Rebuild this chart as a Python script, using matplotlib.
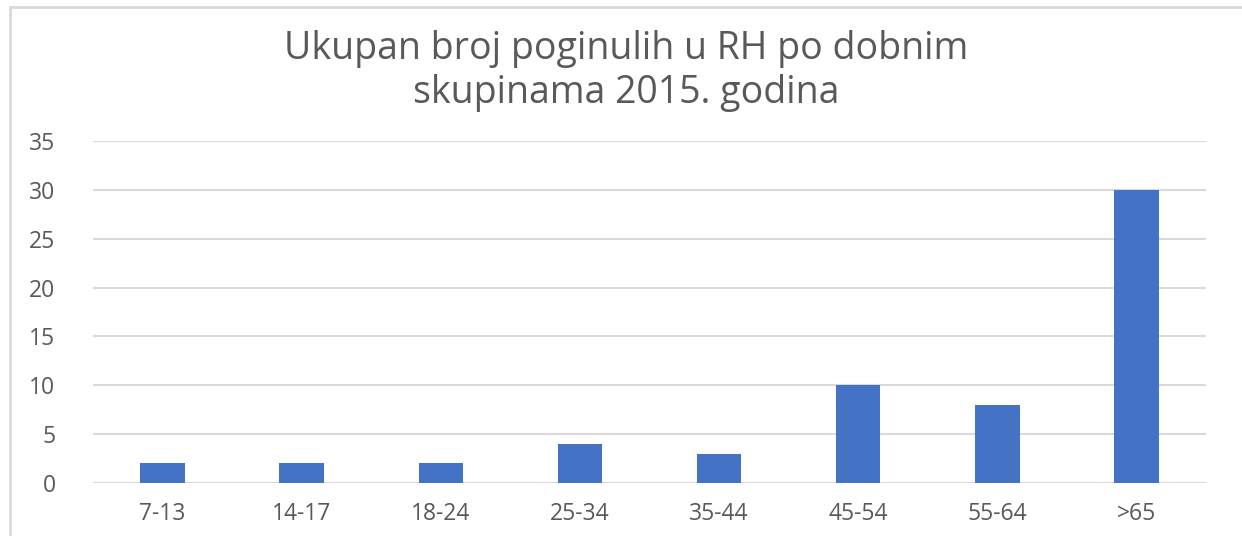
import matplotlib.pyplot as plt
from matplotlib.patches import Rectangle

# podaci
dobne_skupine = ["7-13", "14-17", "18-24", "25-34", "35-44", "45-54", "55-64", ">65"]
poginuli = [2, 2, 2, 4, 3, 10, 8, 30]
y_ticks = [0, 5, 10, 15, 20, 25, 30, 35]

plt.rcParams['font.family'] = ['Open Sans', 'DejaVu Sans']

W, H = 1242, 536
fig = plt.figure(figsize=(W / 100, H / 100), dpi=100)
ax = fig.add_axes([93 / W, 1 - 483 / H, (1206 - 93) / W, (483 - 141) / H])

x = range(len(dobne_skupine))
ax.bar(x, poginuli, width=0.32, color="#4472C4", zorder=3)

ax.set_xlim(-0.5, len(dobne_skupine) - 0.5)
ax.set_ylim(0, 35)
ax.set_yticks(y_ticks)
ax.set_xticks(list(x))
ax.set_xticklabels(dobne_skupine)
ax.grid(axis="y", color="#D9D9D9", linewidth=1.5, zorder=0)
for s in ax.spines.values():
    s.set_visible(False)
ax.tick_params(length=0, labelsize=16.5, colors="#595959", pad=14)
ax.tick_params(axis="y", pad=27)

fig.text(626 / W, 1 - 71 / H,
         "Ukupan broj poginulih u RH po dobnim\nskupinama 2015. godina",
         ha="center", va="center", fontsize=27, color="#595959", linespacing=1.2)

# okvir grafikona
fig.patches.append(Rectangle((10 / W, -0.1), 1.2, 1 - 7 / H + 0.1,
                             transform=fig.transFigure, fill=False,
                             edgecolor="#D9D9D9", linewidth=2))

fig.savefig("out.png", dpi=100)
